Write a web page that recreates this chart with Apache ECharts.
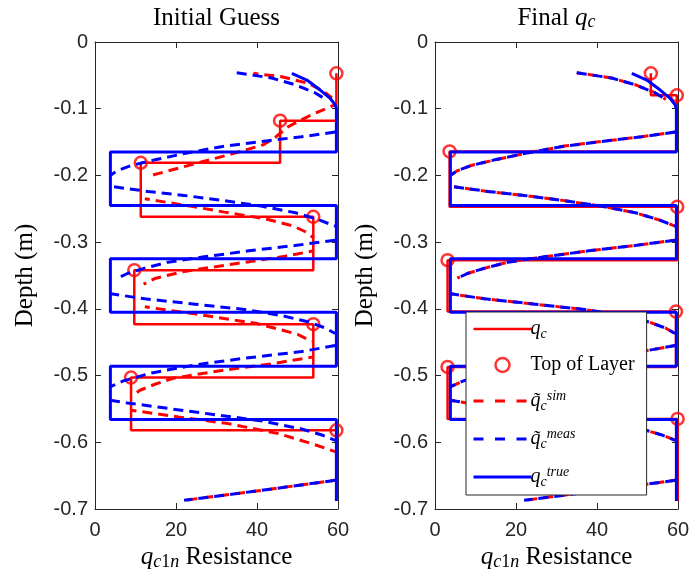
<!DOCTYPE html>
<html>
<head>
<meta charset="utf-8">
<script src="https://cdn.jsdelivr.net/npm/echarts@6/dist/echarts.min.js"></script>
<style>
  html, body { margin: 0; padding: 0; background: #ffffff; }
  #chart { width: 689px; height: 578px; }
</style>
</head>
<body>
<div id="chart"></div>
<script>
// ---- axis ticks ----
const xTickLabels = ['0', '20', '40', '60'];
const yTickLabels = ['0', '-0.1', '-0.2', '-0.3', '-0.4', '-0.5', '-0.6', '-0.7'];

// ---- true resistance profile (shared by both panels) ----
const trueQ =     [48.6, 52.3, 55.6, 58.0, 59.3, 59.6, 59.6, 3.8, 3.8, 59.6, 59.6, 3.8, 3.8, 59.6, 59.6, 3.8, 3.8, 59.6, 59.6];
const trueDepth = [-0.047, -0.057, -0.072, -0.084, -0.094, -0.100, -0.165, -0.165, -0.245, -0.245, -0.325, -0.325, -0.405, -0.405, -0.486, -0.486, -0.566, -0.566, -0.688];

// ---- measured response (null = break between segments) ----
const measQ = [35, 43.6, 49.4, 54.3, 57, null,
  59.3, 51, 41.2, 32, 23, 14.5, 9, 5.5, 4, null,
  4.7, 13, 22, 31, 41, 49.5, 55.5, 59.3, null,
  59.3, 49.4, 38, 27, 18, 12.3, 8, 5.5, null,
  3.5, 12.3, 24.7, 37, 46, 53, 57, 59.3, null,
  59.3, 51, 37, 24.7, 14, 7, 3.7, null,
  3.7, 8, 16.5, 28.8, 41.2, 51, 56, 59.3, null,
  59.3, 41.2, 22];
const measDepth = [-0.046, -0.054, -0.064, -0.076, -0.086, null,
  -0.135, -0.142, -0.149, -0.156, -0.166, -0.177, -0.185, -0.193, -0.199, null,
  -0.217, -0.224, -0.230, -0.237, -0.246, -0.256, -0.267, -0.276, null,
  -0.297, -0.305, -0.313, -0.322, -0.330, -0.339, -0.347, -0.354, null,
  -0.377, -0.385, -0.393, -0.401, -0.410, -0.420, -0.429, -0.437, null,
  -0.455, -0.464, -0.474, -0.484, -0.496, -0.508, -0.517, null,
  -0.537, -0.541, -0.548, -0.558, -0.568, -0.580, -0.589, -0.597, null,
  -0.657, -0.672, -0.687];

// ---- simulated response from the initial guess ----
const simInitQ = [39.1, 46.1, 52.7, 56.4, 58.5, null,
  59.3, 53.5, 47.7, 44.5, 41.6, 33, 22.5, 14.5, 13, null,
  12.3, 23.5, 32, 42, 49, 52.5, 54, null,
  54, 47, 35, 22, 15, 12, null,
  12.3, 24, 34.6, 40, 44.4, 50, 53.5, null,
  53.9, 44, 31.7, 19.3, 14.8, 11.1, 9.3, null,
  9, 20.6, 32.9, 45.3, 53.5, 59.3, null,
  59.3, 41.2, 22];
const simInitDepth = [-0.047, -0.052, -0.062, -0.074, -0.084, null,
  -0.094, -0.109, -0.127, -0.143, -0.154, -0.169, -0.186, -0.199, -0.203, null,
  -0.235, -0.246, -0.255, -0.265, -0.276, -0.286, -0.294, null,
  -0.313, -0.321, -0.332, -0.344, -0.354, -0.363, null,
  -0.397, -0.407, -0.417, -0.422, -0.429, -0.438, -0.449, null,
  -0.472, -0.482, -0.492, -0.504, -0.513, -0.522, -0.530, null,
  -0.552, -0.562, -0.572, -0.587, -0.602, -0.614, null,
  -0.657, -0.672, -0.687];

// ---- simulated response from the final estimate ----
const simFinalQ = [35, 43.6, 49.4, 54.3, 57, null,
  59.3, 51, 41.2, 32, 23, 14.5, 9, 5.5, 4, null,
  4.7, 13, 22, 31, 41, 49.5, 55.5, 59.3, null,
  59.3, 49.4, 38, 27, 18, 12.3, 8, 5.5, null,
  3.5, 12.3, 24.7, 37, 46, 53, 57, 59.3, null,
  59.3, 51, 37, 24.7, 14, 7, 3.7, null,
  3.7, 8, 16.5, 28.8, 41.2, 51, 56, 59.3, null,
  59.3, 41.2, 22];
const simFinalDepth = [-0.046, -0.054, -0.064, -0.076, -0.086, null,
  -0.135, -0.142, -0.149, -0.156, -0.166, -0.177, -0.185, -0.193, -0.199, null,
  -0.217, -0.224, -0.230, -0.237, -0.246, -0.256, -0.267, -0.276, null,
  -0.297, -0.305, -0.313, -0.322, -0.330, -0.339, -0.347, -0.354, null,
  -0.377, -0.385, -0.393, -0.401, -0.410, -0.420, -0.429, -0.437, null,
  -0.455, -0.464, -0.474, -0.484, -0.496, -0.508, -0.517, null,
  -0.537, -0.541, -0.548, -0.558, -0.568, -0.580, -0.589, -0.597, null,
  -0.657, -0.672, -0.687];

// ---- layered q_c estimates: top of each layer and its value ----
const initLayerTop   = [-0.047, -0.118, -0.181, -0.262, -0.342, -0.423, -0.503, -0.582];
const initLayerValue = [59.6, 45.7, 11.3, 53.9, 9.7, 53.9, 8.9, 59.6];
const finalLayerTop   = [-0.047, -0.080, -0.164, -0.247, -0.327, -0.404, -0.487, -0.565];
const finalLayerValue = [53.3, 59.7, 3.6, 59.8, 3.1, 59.5, 3.1, 59.9];
const profileBottom = -0.688;

// ---- helpers to build series data ----
function pairs(xs, ys) {
  return xs.map((x, i) => (x === null ? ['-', '-'] : [x, ys[i]]));
}
function stepPath(tops, vals, bottom) {
  const pts = [];
  for (let i = 0; i < tops.length; i++) {
    const next = i + 1 < tops.length ? tops[i + 1] : bottom;
    pts.push([vals[i], tops[i]]);
    pts.push([vals[i], next]);
  }
  return pts;
}

const RED = '#ff0000';
const BLUE = '#0000ff';
const INK = '#262626';
const serif = "'Liberation Serif', 'Times New Roman', serif";
const sans = "'Liberation Sans', Arial, Helvetica, sans-serif";

const mathRich = (size) => ({
  q:    { fontFamily: serif, fontStyle: 'italic', fontSize: size, lineHeight: 26, color: '#000' },
  sub:  { fontFamily: serif, fontStyle: 'italic', fontSize: Math.round(size * 0.7), lineHeight: 12, verticalAlign: 'bottom', color: '#000' },
  subr: { fontFamily: serif, fontSize: Math.round(size * 0.7), lineHeight: 12, verticalAlign: 'bottom', color: '#000' },
  sup:  { fontFamily: serif, fontStyle: 'italic', fontSize: Math.round(size * 0.7), lineHeight: 12, verticalAlign: 'top', color: '#000' },
  t:    { fontFamily: serif, fontSize: size, lineHeight: 26, color: '#000' }
});

const panels = [
  { left: 95, title: '{t|Initial Guess}', center: 216.5 },
  { left: 435, title: '{t|Final }{q|q}{sub|c}', center: 556.5 }
];
const GRID_W = 243, GRID_TOP = 42, GRID_H = 467;

const grids = [], xAxes = [], yAxes = [], titles = [];
panels.forEach((p, k) => {
  grids.push({ left: p.left, top: GRID_TOP, width: GRID_W, height: GRID_H, outerBoundsMode: 'none', containLabel: false });
  titles.push({
    text: p.title, left: p.center, top: 5, textAlign: 'center', padding: 0,
    textStyle: { fontFamily: serif, fontSize: 25, fontWeight: 'normal', color: '#000', lineHeight: 26, rich: mathRich(25) }
  });
  const xBase = {
    type: 'value', gridIndex: k, min: 0, max: 60, interval: 20,
    axisLine: { show: true, onZero: false, lineStyle: { color: INK, width: 1 } },
    axisTick: { show: true, inside: true, length: 6, lineStyle: { color: INK, width: 1 } },
    splitLine: { show: false }
  };
  xAxes.push(Object.assign({}, xBase, {
    position: 'bottom',
    axisLabel: { show: true, margin: 11, fontFamily: sans, fontSize: 20, color: INK,
      formatter: (v) => xTickLabels[Math.round(v / 20)] },
    name: '{q|q}{sub|c}{subr|1}{sub|n}{t| Resistance}', nameLocation: 'middle', nameGap: 34,
    nameTextStyle: { fontFamily: serif, fontSize: 25, color: '#000', lineHeight: 26, rich: mathRich(25) }
  }));
  xAxes.push(Object.assign({}, xBase, { position: 'top', axisLabel: { show: false } }));
  const yBase = {
    type: 'value', gridIndex: k, min: -0.7, max: 0, interval: 0.1,
    axisLine: { show: true, onZero: false, lineStyle: { color: INK, width: 1 } },
    axisTick: { show: true, inside: true, length: 6, lineStyle: { color: INK, width: 1 } },
    splitLine: { show: false }
  };
  yAxes.push(Object.assign({}, yBase, {
    position: 'left',
    axisLabel: { show: true, margin: 7, fontFamily: sans, fontSize: 20, color: INK,
      formatter: (v) => yTickLabels[Math.round(-v * 10)] },
    name: 'Depth (m)', nameLocation: 'middle', nameGap: 57, nameRotate: 90,
    nameTextStyle: { fontFamily: serif, fontSize: 25, color: '#000', lineHeight: 26 }
  }));
  yAxes.push(Object.assign({}, yBase, { position: 'right', axisLabel: { show: false } }));
});

function panelSeries(k, layerTop, layerValue, simQ, simDepth) {
  const xi = k * 2, yi = k * 2;
  return [
    { name: 'qc', type: 'line', xAxisIndex: xi, yAxisIndex: yi, symbol: 'none',
      data: stepPath(layerTop, layerValue, profileBottom),
      lineStyle: { color: RED, width: 2.5 }, itemStyle: { color: RED } },
    { name: 'Top of Layer', type: 'scatter', xAxisIndex: xi, yAxisIndex: yi, symbol: 'circle', symbolSize: 12,
      data: pairs(layerValue, layerTop),
      itemStyle: { color: 'rgba(255,255,255,0)', borderColor: RED, borderWidth: 2.5 } },
    { name: 'sim', type: 'line', xAxisIndex: xi, yAxisIndex: yi, symbol: 'none', connectNulls: false,
      data: pairs(simQ, simDepth),
      lineStyle: { color: RED, width: 3, type: [10, 6], dashOffset: 5 }, itemStyle: { color: RED } },
    { name: 'meas', type: 'line', xAxisIndex: xi, yAxisIndex: yi, symbol: 'none', connectNulls: false,
      data: pairs(measQ, measDepth),
      lineStyle: { color: BLUE, width: 3, type: [10, 6] }, itemStyle: { color: BLUE } },
    { name: 'true', type: 'line', xAxisIndex: xi, yAxisIndex: yi, symbol: 'none',
      data: pairs(trueQ, trueDepth),
      lineStyle: { color: BLUE, width: 3 }, itemStyle: { color: BLUE } }
  ];
}

const legendLabels = {
  'qc': '{q|q}{sub|c}',
  'Top of Layer': '{t|Top of Layer}',
  'sim': '{q|q\u0303}{sub|c}{sup|sim}',
  'meas': '{q|q\u0303}{sub|c}{sup|meas}',
  'true': '{q|q}{sub|c}{sup|true}'
};

const legendRich = mathRich(20);
legendRich.q.lineHeight = 24;
legendRich.t.lineHeight = 24;

// line entries in the legend show only their stroke, no marker
const hiddenMarker = { opacity: 0 };

const option = {
  animation: false,
  backgroundColor: '#ffffff',
  title: titles,
  grid: grids,
  xAxis: xAxes,
  yAxis: yAxes,
  legend: {
    orient: 'vertical', left: 466, top: 312,
    padding: [7, 12, 6, 6],
    itemWidth: 58, itemHeight: 14, itemGap: 14,
    backgroundColor: '#ffffff', borderColor: INK, borderWidth: 1, borderRadius: 0,
    selectedMode: false,
    data: [
      { name: 'qc', lineStyle: { width: 2.5 }, itemStyle: hiddenMarker },
      { name: 'Top of Layer', itemStyle: { borderWidth: 2.5 } },
      { name: 'sim', lineStyle: { width: 3, type: [10, 11.5], dashOffset: 0 }, itemStyle: hiddenMarker },
      { name: 'meas', lineStyle: { width: 3, type: [10, 11.5], dashOffset: 0 }, itemStyle: hiddenMarker },
      { name: 'true', lineStyle: { width: 3 }, itemStyle: hiddenMarker }
    ],
    formatter: (name) => legendLabels[name],
    textStyle: { fontFamily: serif, fontSize: 20, color: '#000', padding: [0, 0, 0, -6], rich: legendRich }
  },
  series: [
    ...panelSeries(0, initLayerTop, initLayerValue, simInitQ, simInitDepth),
    ...panelSeries(1, finalLayerTop, finalLayerValue, simFinalQ, simFinalDepth)
  ]
};

const chart = echarts.init(document.getElementById('chart'), null, { renderer: 'canvas' });
chart.setOption(option);
</script>
</body>
</html>
